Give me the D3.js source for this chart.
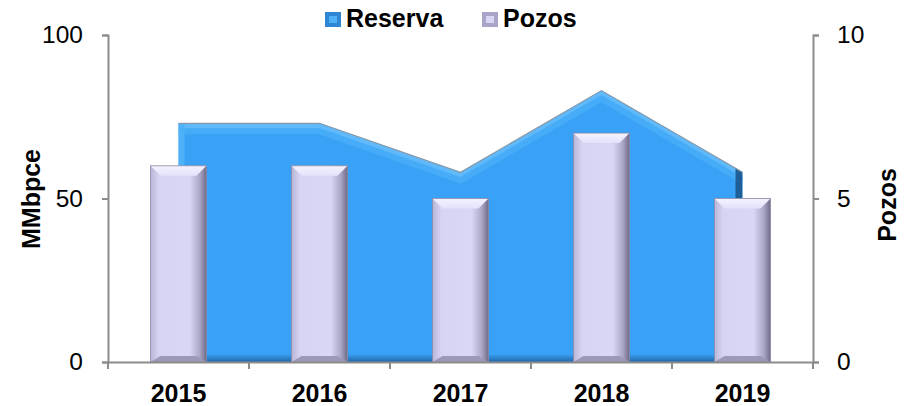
<!DOCTYPE html>
<html>
<head>
<meta charset="utf-8">
<script src="https://cdn.jsdelivr.net/npm/d3@7"></script>
<style>
  body { margin: 0; background: #fff; }
  text { font-family: "Liberation Sans", Arial, sans-serif; }
</style>
</head>
<body>
<div id="chart"></div>
<script>
// Chart data
const years = ["2015", "2016", "2017", "2018", "2019"];
const reserva = [73, 73, 58, 83, 58];
const pozos = [6, 6, 5, 7, 5];
const leftTicks = [0, 50, 100];
const rightTicks = [0, 5, 10];

const W = 906, H = 406;
const margin = { top: 35, right: 93, bottom: 44, left: 108 };
const width = W - margin.left - margin.right;
const height = H - margin.top - margin.bottom;

const svg = d3.select("#chart").append("svg")
    .attr("width", W).attr("height", H);

const defs = svg.append("defs");

// Gradient for the bars (3D look).
const barGrad = defs.append("linearGradient").attr("id", "barGrad")
    .attr("x1", "0").attr("x2", "1").attr("y1", "0").attr("y2", "0");
barGrad.append("stop").attr("offset", "0").attr("stop-color", "#b9b5d6");
barGrad.append("stop").attr("offset", "0.15").attr("stop-color", "#d6d3f3");
barGrad.append("stop").attr("offset", "0.7").attr("stop-color", "#d9d6f6");
barGrad.append("stop").attr("offset", "0.88").attr("stop-color", "#aaa6c6");
barGrad.append("stop").attr("offset", "1").attr("stop-color", "#6f6b86");

const bevelGrad = defs.append("linearGradient").attr("id", "bevelGrad")
    .attr("x1", "0").attr("x2", "0").attr("y1", "0").attr("y2", "1");
bevelGrad.append("stop").attr("offset", "0").attr("stop-color", "#f4f3ff");
bevelGrad.append("stop").attr("offset", "1").attr("stop-color", "#e3e1fb");

const bottomGrad = defs.append("linearGradient").attr("id", "bottomGrad")
    .attr("x1", "0").attr("x2", "0").attr("y1", "0").attr("y2", "1");
bottomGrad.append("stop").attr("offset", "0").attr("stop-color", "#39a1f6");
bottomGrad.append("stop").attr("offset", "1").attr("stop-color", "#2267a6");

const g = svg.append("g").attr("transform", `translate(${margin.left},${margin.top})`);

// Scales
const x = d3.scaleBand().domain(years).range([0, width]);
const yL = d3.scaleLinear().domain([0, 100]).range([height, 0]);
const yR = d3.scaleLinear().domain([0, 10]).range([height, 0]);
const cx = d => x(d) + x.bandwidth() / 2;

// Area (Reserva)
const areaData = years.map((y, i) => ({ year: y, v: reserva[i] }));
const area = d3.area().x(d => cx(d.year)).y0(height).y1(d => yL(d.v));
const line = d3.line().x(d => cx(d.year)).y(d => yL(d.v));

defs.append("clipPath").attr("id", "areaClip")
    .append("path").attr("d", area(areaData));

g.append("path").attr("d", area(areaData)).attr("fill", "#39a1f6");

const ag = g.append("g").attr("clip-path", "url(#areaClip)");
// top bevel highlight
ag.append("path").attr("d", line(areaData))
    .attr("fill", "none").attr("stroke", "#5fb9fa").attr("stroke-width", 16);
ag.append("path").attr("d", line(areaData))
    .attr("fill", "none").attr("stroke", "#46acf8").attr("stroke-width", 6)
    .attr("transform", "translate(0,8)");
// bottom shade and side edges
ag.append("rect").attr("x", 0).attr("y", height - 8).attr("width", width).attr("height", 8)
    .attr("fill", "url(#bottomGrad)");
ag.append("rect").attr("x", cx(years[years.length - 1]) - 7).attr("y", 0)
    .attr("width", 7).attr("height", height).attr("fill", "#1e5f98");
ag.append("rect").attr("x", cx(years[0])).attr("y", 0)
    .attr("width", 6).attr("height", height).attr("fill", "#4fb2f9");
g.append("path").attr("d", line(areaData))
    .attr("fill", "none").attr("stroke", "#8a9aa8").attr("stroke-width", 1.2);

// Bars (Pozos)
const barW = 56;
const barData = years.map((y, i) => ({ year: y, v: pozos[i] }));
const bars = g.selectAll(".bar").data(barData).enter().append("g").attr("class", "bar");
bars.append("rect")
    .attr("x", d => cx(d.year) - barW / 2)
    .attr("y", d => yR(d.v))
    .attr("width", barW)
    .attr("height", d => height - yR(d.v))
    .attr("fill", "url(#barGrad)");
const bv = 10;
bars.append("path")
    .attr("d", d => {
        const x0 = cx(d.year) - barW / 2, x1 = x0 + barW, y0 = yR(d.v);
        return `M${x0},${y0}L${x1},${y0}L${x1 - bv},${y0 + bv}L${x0 + bv},${y0 + bv}Z`;
    })
    .attr("fill", "url(#bevelGrad)");
bars.append("path")
    .attr("d", d => {
        const x0 = cx(d.year) - barW / 2, x1 = x0 + barW, y0 = height;
        return `M${x0},${y0}L${x1},${y0}L${x1 - bv},${y0 - 6}L${x0 + bv},${y0 - 6}Z`;
    })
    .attr("fill", "#9c98b8");
bars.append("rect")
    .attr("x", d => cx(d.year) - barW / 2)
    .attr("y", d => yR(d.v))
    .attr("width", barW)
    .attr("height", d => height - yR(d.v))
    .attr("fill", "none").attr("stroke", "#8d89a6").attr("stroke-width", 0.8);

// Axes
const axisColor = "#8c8c8c";
const xAxis = g.append("g").attr("transform", `translate(0,${height})`)
    .call(d3.axisBottom(x).tickSize(0).tickPadding(22));
xAxis.select(".domain").attr("stroke", axisColor).attr("stroke-width", 2);
xAxis.selectAll("text").attr("font-size", 25).attr("font-weight", "bold").attr("fill", "#000");
// category boundary ticks
g.append("g").selectAll("line").data(years.concat(["end"])).enter().append("line")
    .attr("x1", (d, i) => i * x.bandwidth()).attr("x2", (d, i) => i * x.bandwidth())
    .attr("y1", height).attr("y2", height + 7)
    .attr("stroke", axisColor).attr("stroke-width", 2);

const yAxisL = g.append("g").call(d3.axisLeft(yL).tickValues(leftTicks).tickSize(6).tickSizeOuter(6).tickPadding(19));
yAxisL.select(".domain").attr("stroke", axisColor).attr("stroke-width", 2);
yAxisL.selectAll(".tick line").attr("stroke", axisColor).attr("stroke-width", 2);
yAxisL.selectAll("text").attr("font-size", 24.5).attr("fill", "#000");

const yAxisR = g.append("g").attr("transform", `translate(${width},0)`)
    .call(d3.axisRight(yR).tickValues(rightTicks).tickSize(6).tickSizeOuter(6).tickPadding(18));
yAxisR.select(".domain").attr("stroke", axisColor).attr("stroke-width", 2);
yAxisR.selectAll(".tick line").attr("stroke", axisColor).attr("stroke-width", 2);
yAxisR.selectAll("text").attr("font-size", 24.5).attr("fill", "#000");

// Axis titles
svg.append("text")
    .attr("transform", `translate(40,199) rotate(-90)`)
    .attr("text-anchor", "middle")
    .attr("font-size", 25).attr("font-weight", "bold").text("MMbpce");
svg.append("text")
    .attr("transform", `translate(896,205) rotate(-90)`)
    .attr("text-anchor", "middle")
    .attr("font-size", 25).attr("font-weight", "bold").text("Pozos");

// Legend
const legend = svg.append("g");
const items = [
    { label: "Reserva", color: "#2f86d4", light: "#4fb0f8" },
    { label: "Pozos", color: "#a9a5c8", light: "#d8d5f5" }
];
const lx = [325, 482];
items.forEach((it, i) => {
    const lg = legend.append("g").attr("transform", `translate(${lx[i]},12)`);
    lg.append("rect").attr("width", 16).attr("height", 15).attr("fill", it.color);
    lg.append("rect").attr("x", 4).attr("y", 4).attr("width", 8).attr("height", 7).attr("fill", it.light);
    lg.append("text").attr("x", 21).attr("y", 15).attr("font-size", 25)
        .attr("font-weight", "bold").text(it.label);
});
</script>
</body>
</html>
